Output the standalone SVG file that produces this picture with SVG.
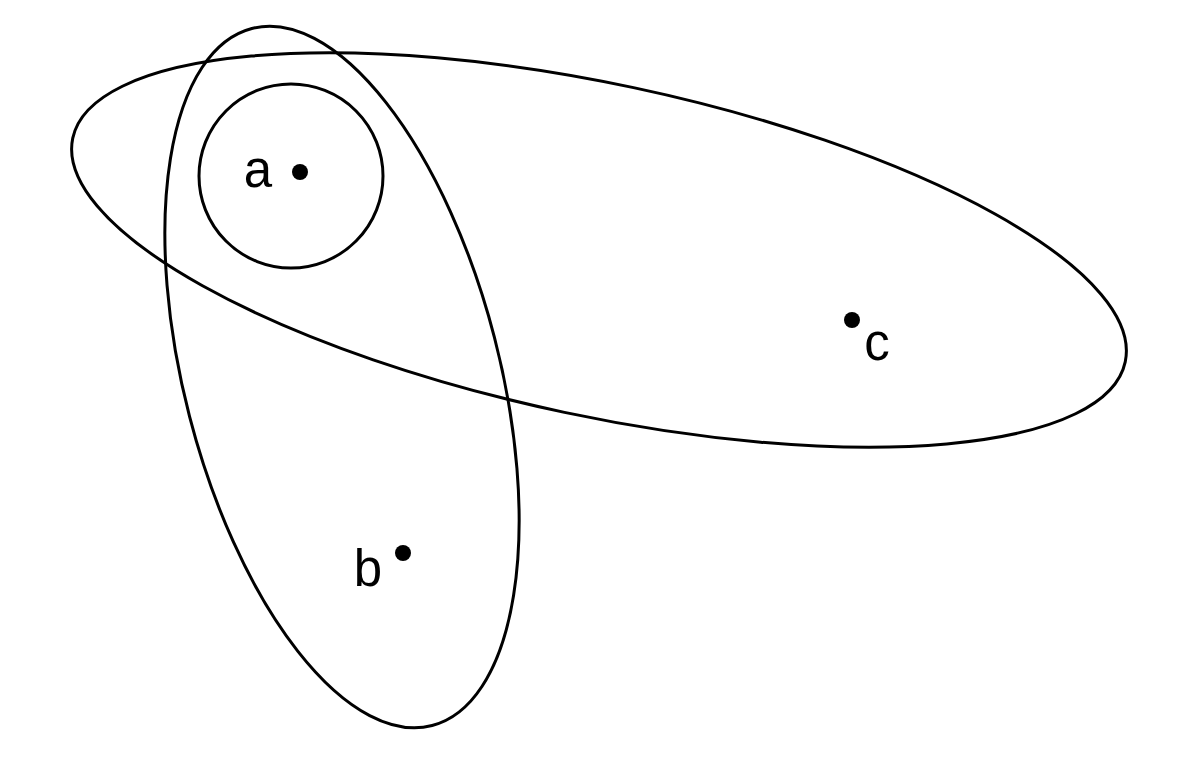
<svg xmlns="http://www.w3.org/2000/svg" width="1200" height="784" viewBox="0 0 1200 784">
<style>
.set{fill:none;stroke:#000;stroke-width:3}
.pt{fill:#000}
.lbl{font-family:"Liberation Sans",Arial,sans-serif;font-size:51px;fill:#000;text-anchor:middle}
</style>
<rect width="1200" height="784" fill="#fff"/>
<g id="set-big">
<ellipse class="set" cx="599" cy="250" rx="538" ry="166" transform="rotate(12 599 250)"/>
</g>
<g id="set-tall">
<ellipse class="set" cx="342" cy="377" rx="157.5" ry="360" transform="rotate(-14.5 342 377)"/>
</g>
<g id="set-small">
<circle class="set" cx="291" cy="176" r="92"/>
</g>
<g id="node-a">
<circle class="pt" cx="300" cy="172" r="8"/>
<text class="lbl" x="258" y="187">a</text>
</g>
<g id="node-b">
<circle class="pt" cx="403" cy="553" r="8"/>
<text class="lbl" x="368" y="586">b</text>
</g>
<g id="node-c">
<circle class="pt" cx="852" cy="320" r="8"/>
<text class="lbl" x="877" y="360">c</text>
</g>
</svg>
